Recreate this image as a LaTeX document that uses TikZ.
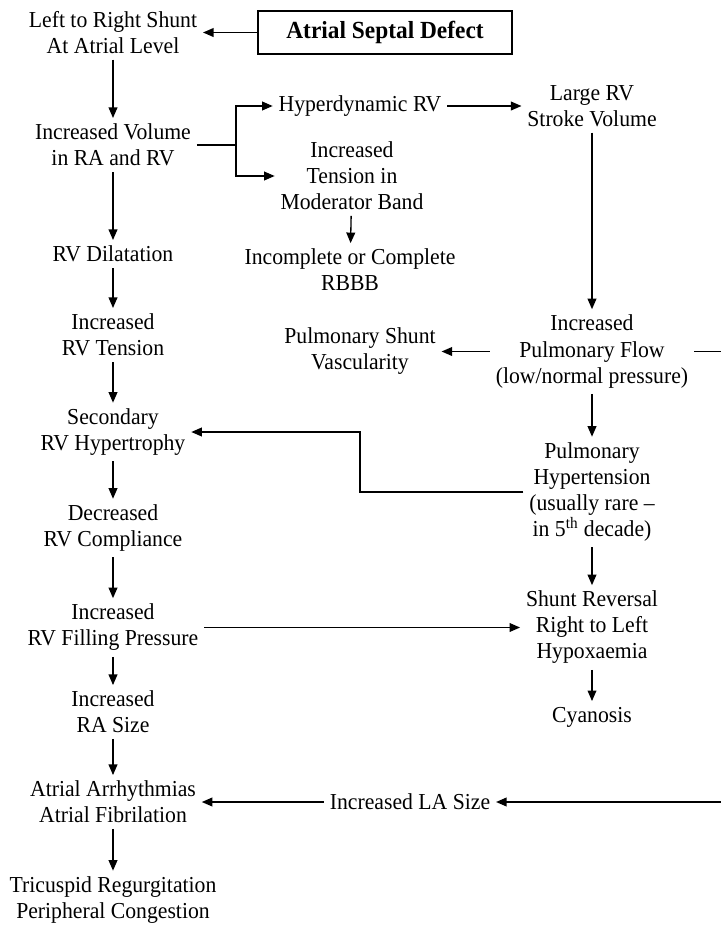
\documentclass[tikz,border=0pt]{standalone}
\usepackage{fontspec}
\setmainfont[FakeStretch=0.95]{Liberation Serif}
\usetikzlibrary{arrows.meta}

\begin{document}
\begin{tikzpicture}[line width=0.75pt,
  every node/.style={font=\fontsize{13}{14.8}\selectfont,align=center,inner sep=3pt},
  arr/.style={-{Triangle[length=6pt,width=5pt]}}]
  \useasboundingbox (0,0) rectangle (14.4,-18.5);
  % left column
  \node (lrs) at (2.26,-0.65) {Left to Right Shunt\\At Atrial Level};
  \node[draw,minimum width=5.08cm,minimum height=0.86cm,font=\fontsize{14}{16}\selectfont\bfseries] (asd) at (7.7,-0.65) {Atrial Septal Defect};
  \node (incvol) at (2.26,-2.9) {Increased Volume\\in RA and RV};
  \node (rvdil) at (2.26,-5.08) {RV Dilatation};
  \node (rvten) at (2.26,-6.7) {Increased\\RV Tension};
  \node (rvhyp) at (2.26,-8.64) {Secondary\\RV Hypertrophy};
  \node (rvcomp) at (2.26,-10.56) {Decreased\\RV Compliance};
  \node (rvfill) at (2.26,-12.55) {Increased\\RV Filling Pressure};
  \node (rasize) at (2.26,-14.24) {Increased\\RA Size};
  \node (arrh) at (2.26,-16.04) {Atrial Arrhythmias\\Atrial Fibrilation};
  \node (tric) at (2.26,-18.0) {Tricuspid Regurgitation\\Peripheral Congestion};
  % middle
  \node (hyper) at (7.2,-2.12) {Hyperdynamic RV};
  \node (tension) at (7.04,-3.52) {Increased\\Tension in\\Moderator Band};
  \node (rbbb) at (7.0,-5.4) {Incomplete or Complete\\RBBB};
  \node (psv) at (7.2,-7.03) {Pulmonary Shunt\\Vascularity};
  \node (lasize) at (8.2,-16.04) {Increased LA Size};
  % right column
  \node (large) at (11.84,-2.12) {Large RV\\Stroke Volume};
  \node (pflow) at (11.84,-7.03) {Increased\\Pulmonary Flow\\(low/normal pressure)};
  \node (phyp) at (11.84,-9.84) {Pulmonary\\Hypertension\\(usually rare --\\in 5\textsuperscript{th} decade)};
  \node (srev) at (11.84,-12.55) {Shunt Reversal\\Right to Left\\Hypoxaemia};
  \node (cyan) at (11.84,-14.34) {Cyanosis};
  \coordinate (br) at (4.72,-2.9);
  \coordinate (bend) at (7.2,-8.64);
  \coordinate (edge) at (14.55,-7.03);

  \draw[arr] (asd) -- (lrs);
  \draw[arr] (lrs) -- (incvol);
  \draw (incvol) -- (br);
  \draw[arr] (br) |- (hyper);
  \draw[arr] (br) |- (tension);
  \draw[arr] (hyper) -- (large);
  \draw[arr] (tension) -- (rbbb);
  \draw[arr] (large) -- (pflow);
  \draw[arr] (pflow) -- (psv);
  \draw[arr] (pflow) -- (edge) |- (lasize);
  \draw[arr] (pflow) -- (phyp);
  \draw[arr] (phyp.west) -| (bend) -- (rvhyp);
  \draw[arr] (phyp) -- (srev);
  \draw[arr] (srev) -- (cyan);
  \draw[arr] (incvol) -- (rvdil);
  \draw[arr] (rvdil) -- (rvten);
  \draw[arr] (rvten) -- (rvhyp);
  \draw[arr] (rvhyp) -- (rvcomp);
  \draw[arr] (rvcomp) -- (rvfill);
  \draw[arr] (rvfill) -- (srev);
  \draw[arr] (rvfill) -- (rasize);
  \draw[arr] (rasize) -- (arrh);
  \draw[arr] (lasize) -- (arrh);
  \draw[arr] (arrh) -- (tric);
\end{tikzpicture}
\end{document}
